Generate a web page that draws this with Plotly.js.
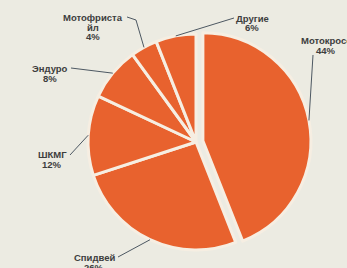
<!DOCTYPE html>
<html>
<head>
<meta charset="utf-8">
<script src="https://cdn.plot.ly/plotly-3.0.1.min.js"></script>
<style>
html,body{margin:0;padding:0;background:#ECEBE2;}
#chart{width:347px;height:268px;}
</style>
</head>
<body>
<div id="chart"></div>
<script>
// Data
const categories = ["Мотокросс", "Спидвей", "ШКМГ", "Эндуро", "Мотофриста<br>йл", "Другие"];
const shares = [44, 26, 12, 8, 4, 6];
const pulls = [0.065, 0, 0, 0, 0, 0];

// Layout geometry
const W = 347, H = 268;
const M = {l: 81, r: 36, t: 27, b: 11};
const PW = W - M.l - M.r, PH = H - M.t - M.b;
const cx = M.l + PW / 2, cy = M.t + PH / 2;
const maxPull = Math.max(...pulls);
const R = Math.min(PW, PH) / (2 + 2 * maxPull);

// label placement (pixel centre x, first line y, leader start / optional elbow)
const LINE = 10;
const labelPos = [
  {x: 326, y: 40, path: [[313, 55]]},
  {x: 94, y: 257, path: [[118, 257]]},
  {x: 52, y: 154, path: [[70, 155]]},
  {x: 50, y: 68, path: [[71, 68]]},
  {x: 93, y: 17, path: [[127, 17], [136, 20]]},
  {x: 252, y: 18, path: [[234, 18]]}
];

const px2x = p => (p - M.l) / PW;
const py2y = p => 1 - (p - M.t) / PH;

const total = shares.reduce((a, b) => a + b, 0);
let cum = 0;
const annotations = [], shapes = [];
shares.forEach((v, i) => {
  const mid = (cum + v / 2) / total * 2 * Math.PI;
  cum += v;
  const off = pulls[i] * R;
  const ox = cx + off * Math.sin(mid), oy = cy - off * Math.cos(mid);
  const tx = ox + R * Math.sin(mid), ty = oy - R * Math.cos(mid);
  const lp = labelPos[i];
  const lines = categories[i].split('<br>').concat([v + '%']);
  lines.forEach((t, k) => {
    annotations.push({
      xref: 'paper', yref: 'paper', x: px2x(lp.x), y: py2y(lp.y + k * LINE),
      xanchor: 'center', yanchor: 'middle', showarrow: false,
      text: t,
      font: {family: 'Liberation Sans, Arial, sans-serif', size: 9.5, color: '#3d3d3d', weight: 'bold'}
    });
  });
  const pts = lp.path.concat([[tx, ty]]);
  const d = pts.map((p, k) => (k ? 'L' : 'M') + px2x(p[0]).toFixed(4) + ',' + py2y(p[1]).toFixed(4)).join(' ');
  shapes.push({type: 'path', xref: 'paper', yref: 'paper', path: d,
    line: {color: '#4d5862', width: 1}});
});

const trace = {
  type: 'pie',
  labels: categories,
  values: shares,
  pull: pulls,
  sort: false,
  direction: 'clockwise',
  rotation: 0,
  textinfo: 'none',
  hoverinfo: 'none',
  marker: {colors: shares.map(() => '#E8622E'), line: {color: '#F6EEE2', width: 3}},
  showlegend: false
};

const layout = {
  width: W, height: H,
  margin: M,
  paper_bgcolor: '#ECEBE2',
  plot_bgcolor: '#ECEBE2',
  showlegend: false,
  annotations: annotations,
  shapes: shapes
};

Plotly.newPlot('chart', [trace], layout, {displayModeBar: false, staticPlot: true});
</script>
</body>
</html>
